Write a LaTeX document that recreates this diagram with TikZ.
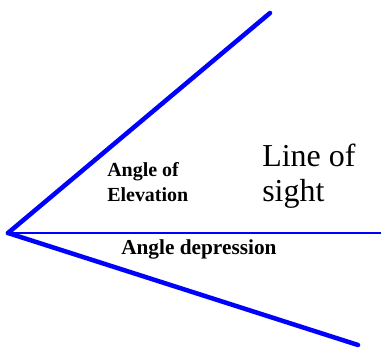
\documentclass[tikz,border=0pt]{standalone}
\usepackage{fontspec}
\setmainfont{Liberation Serif}
\usepackage{tikz}
\usetikzlibrary{positioning}
\definecolor{corlinha}{RGB}{0,0,255}

\begin{document}
\begin{tikzpicture}[
  x=0.0264cm, y=0.0264cm,
  raio/.style={line width=3.4pt, color=corlinha, line cap=round, line join=round},
  horiz/.style={line width=0.8pt, color=corlinha},
  rotulo/.style={inner sep=0pt, align=left, font=\bfseries\fontsize{15}{19}\selectfont},
  grande/.style={inner sep=0pt, align=left, font=\fontsize{24}{26.5}\selectfont}
]
  \useasboundingbox (0,0) rectangle (381,352);
  \coordinate (vertice) at (8,119);
  \coordinate (topo) at (270,339);
  \coordinate (fundo) at (358,7);
  \coordinate (horizonte) at (381,119);

  \draw[horiz] (vertice) -- (horizonte);
  \draw[raio] (vertice) -- (topo);
  \draw[raio] (vertice) -- (fundo);

  % a ancora base fica na ultima linha
  \node[rotulo, anchor=base west] (elev) at (107,150) {Angle of\\Elevation};
  \node[grande, anchor=base west] (visada) at (262,150) {Line of\\sight};
  \node[rotulo, anchor=base west] (depr) at (121,97) {\fontsize{16}{19}\selectfont Angle depression};
\end{tikzpicture}
\end{document}
